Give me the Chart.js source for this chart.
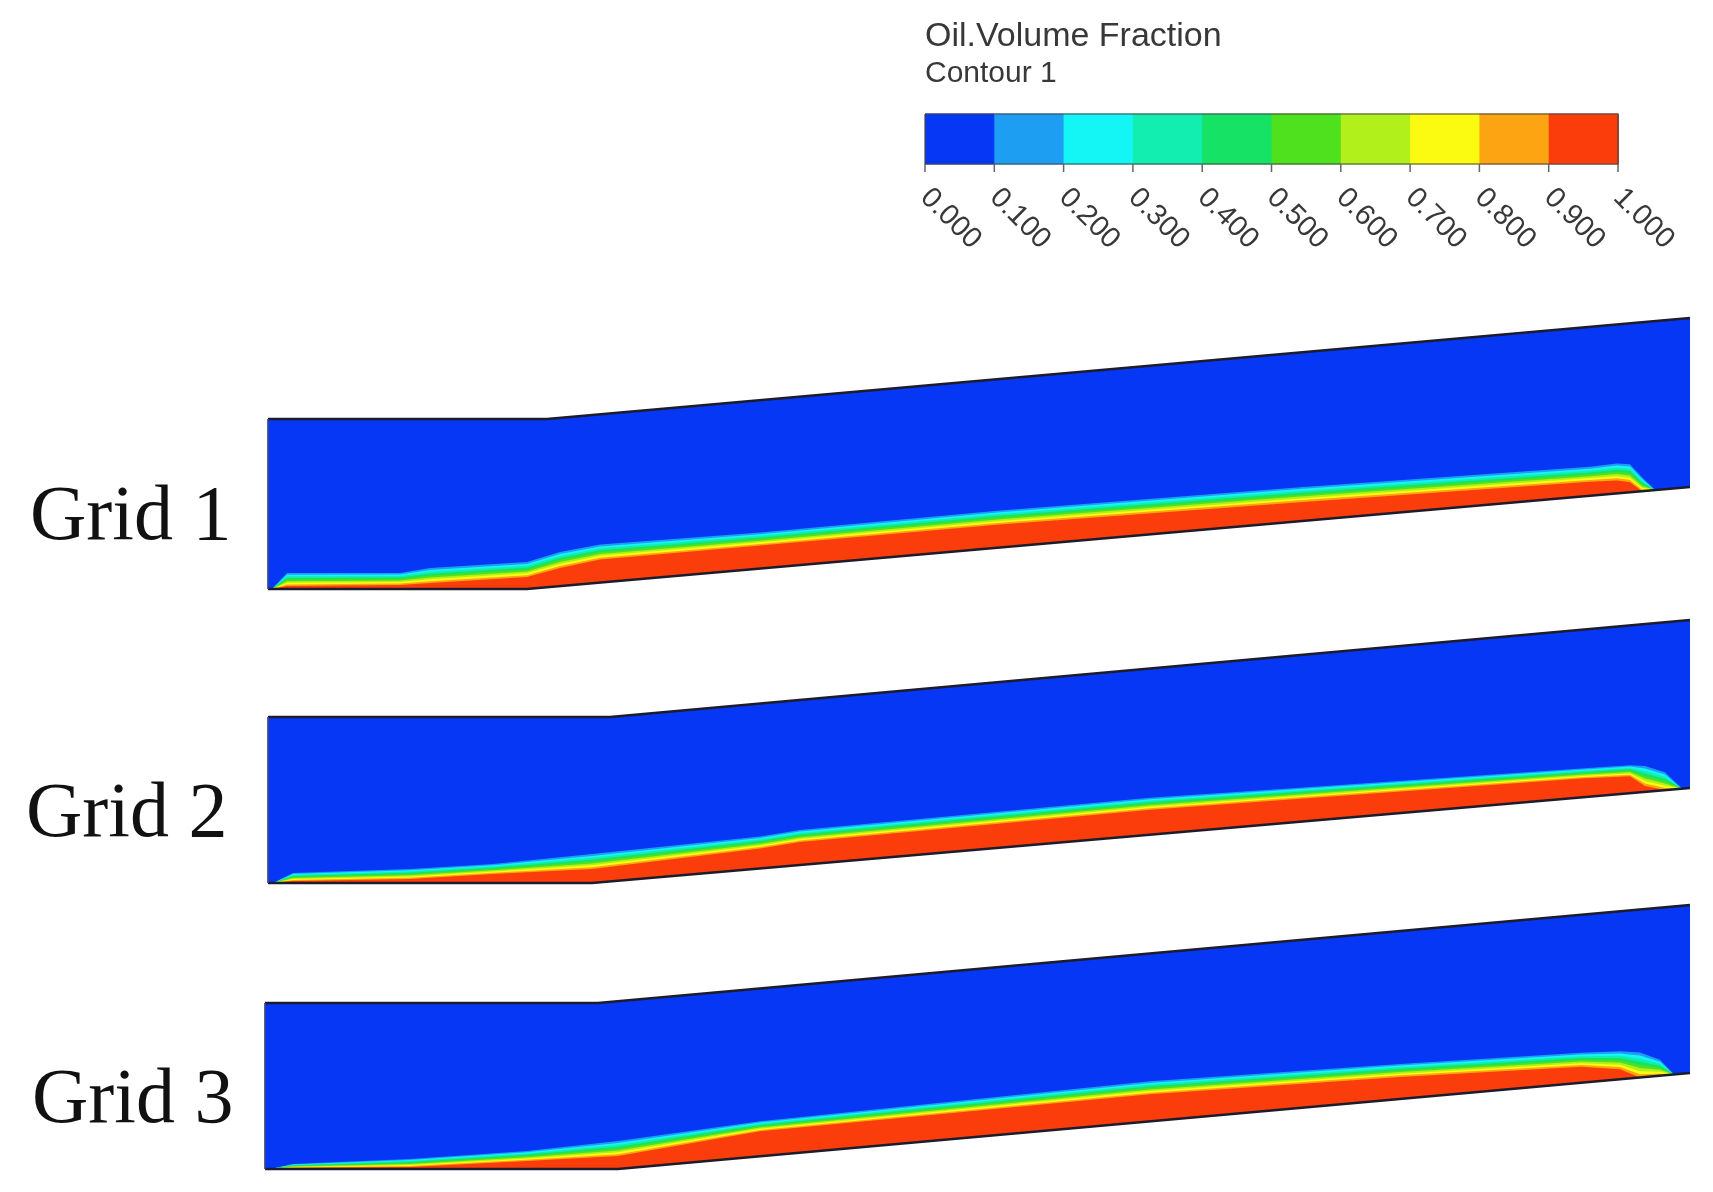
<!DOCTYPE html>
<html>
<head>
<meta charset="utf-8">
<script src="https://cdn.jsdelivr.net/npm/chart.js@4.4.1/dist/chart.umd.min.js"></script>
<style>
  html, body { margin: 0; padding: 0; background: #fff; }
  canvas { display: block; }
</style>
</head>
<body>
<canvas id="contour" width="1713" height="1192"></canvas>
<script>
// colour bar: contour levels, their labels and the band colours
const levels = [0, 0.1, 0.2, 0.3, 0.4, 0.5, 0.6, 0.7, 0.8, 0.9, 1.0];
const tickLabels = ['0.000', '0.100', '0.200', '0.300', '0.400', '0.500',
                    '0.600', '0.700', '0.800', '0.900', '1.000'];
const bandColors = ['#0637f4', '#1e9ef2', '#14f6f6', '#12eeb0', '#16e266',
                    '#4fe01e', '#b2f01c', '#fbfb12', '#fda412', '#fb3d0c'];

const gridNames = ['Grid 1', 'Grid 2', 'Grid 3'];

// pipe walls, one polyline per grid: inlet, bend, outlet
const topWalls = [
  [[268, 419], [547, 419], [1690, 318]],
  [[268, 717], [610, 717], [1690, 620]],
  [[265, 1003], [598, 1003], [1690, 905]]
];
const bottomWalls = [
  [[268, 589], [527, 589], [1690, 487]],
  [[268, 883], [592, 883], [1690, 788]],
  [[265, 1169], [618, 1169], [1690, 1073]]
];

// oil layer: stations along the pipe, height above the bottom wall of the
// outer contour (0.1) and of the oil core (0.9)
const grid1X     = [272, 287, 400, 430, 527, 560, 600, 760, 1000, 1300, 1590, 1617, 1630, 1642, 1655];
const grid1Outer = [0,   16,  16,  21,  27,  34,  38,  36,  37,   34,   29,   30,   28,   14,   0];
const grid1Core  = [0,   3,   4,   6,   12,  18,  23,  23,  23,   19,   14,   13,   10,   0,    0];

const grid2X     = [273, 293, 410, 493, 592, 760, 800, 1150, 1300, 1581, 1630, 1645, 1665, 1682];
const grid2Outer = [0,   10,  14,  19,  29,  32,  35,  37,   34,   29,   28,   26,   18,   0];
const grid2Core  = [0,   2,   4,   9,   14,  20,  23,  25,   23,   19,   17,   6,    0,    0];

const grid3X     = [270, 293, 410, 527, 618, 760, 1150, 1400, 1581, 1620, 1640, 1660, 1674];
const grid3Outer = [0,   5,   10,  18,  28,  35,  40,   35,   30,   28,   25,   16,   0];
const grid3Core  = [0,   1,   2,   8,   13,  25,  27,   22,   16,   10,   0,    0,    0];

const layers = [
  { x: grid1X, outer: grid1Outer, core: grid1Core },
  { x: grid2X, outer: grid2Outer, core: grid2Core },
  { x: grid3X, outer: grid3Outer, core: grid3Core }
];

// layout (figure units)
const bar = { left: 925, right: 1618, top: 114, bottom: 164 };
const gridLabelPos = [[30, 539], [26, 836], [32, 1122]];
const pipeBlue = bandColors[0];
const wallColor = '#1c1c2c';

function wallY(wall, x) {
  for (let i = 0; i < wall.length - 1; i++) {
    const [x0, y0] = wall[i], [x1, y1] = wall[i + 1];
    if (x <= x1 || i === wall.length - 2) {
      return y0 + (y1 - y0) * (x - x0) / (x1 - x0);
    }
  }
}

function toPts(arr) { return arr.map(([x, y]) => ({ x, y })); }

const datasets = [];
function polygon(pts, color, edge) {
  datasets.push({
    data: pts, showLine: true, fill: 'shape', backgroundColor: color,
    borderColor: edge || 'rgba(0,0,0,0)', borderWidth: 1, pointRadius: 0, tension: 0
  });
}
function polyline(pts, color, width) {
  datasets.push({
    data: pts, showLine: true, fill: false, borderColor: color,
    borderWidth: width, pointRadius: 0, tension: 0
  });
}

layers.forEach((layer, g) => {
  const top = topWalls[g], bot = bottomWalls[g];
  // pipe interior
  polygon(toPts(top.concat(bot.slice().reverse())), pipeBlue);

  // contour bands 0.1 ... 0.9, outer first, red core last
  const xs = layer.x;
  const first = xs[0], last = xs[xs.length - 1];
  const inner = bot.filter(([x]) => x > first && x < last).reverse();
  for (let k = 1; k <= 9; k++) {
    const pts = xs.map((x, i) => {
      const h = layer.core[i] + (layer.outer[i] - layer.core[i]) * (9 - k) / 8;
      return { x, y: wallY(bot, x) - h };
    });
    pts.push({ x: last, y: wallY(bot, last) });
    inner.forEach(([x, y]) => pts.push({ x, y }));
    pts.push({ x: first, y: wallY(bot, first) });
    polygon(pts, bandColors[k]);
  }

  // walls
  polyline(toPts(top), wallColor, 2.5);
  polyline(toPts(bot), wallColor, 2.5);
  polyline(toPts([top[0], bot[0]]), '#3a4a8a', 1);
});

// colour bar swatches
for (let i = 0; i < levels.length - 1; i++) {
  const x0 = bar.left + levels[i] * (bar.right - bar.left);
  const x1 = bar.left + levels[i + 1] * (bar.right - bar.left);
  polygon(toPts([[x0, bar.top], [x1, bar.top], [x1, bar.bottom], [x0, bar.bottom]]),
          bandColors[i], bandColors[i]);
}
polyline(toPts([[bar.left, bar.top], [bar.right, bar.top], [bar.right, bar.bottom],
                [bar.left, bar.bottom], [bar.left, bar.top]]), '#444', 1.2);

datasets.forEach((d, i) => { d.order = datasets.length - i; });

const figureText = {
  id: 'figureText',
  afterDraw(chart) {
    const ctx = chart.ctx;
    const px = v => chart.scales.x.getPixelForValue(v);
    const py = v => chart.scales.y.getPixelForValue(v);
    ctx.save();

    // legend title
    ctx.fillStyle = '#383838';
    ctx.textAlign = 'left';
    ctx.textBaseline = 'alphabetic';
    ctx.font = '34px "Liberation Sans", Arial, sans-serif';
    ctx.fillText('Oil.Volume Fraction', px(bar.left), py(46));
    ctx.font = '30px "Liberation Sans", Arial, sans-serif';
    ctx.fillText('Contour 1', px(bar.left), py(82));

    // ticks and rotated labels
    ctx.strokeStyle = '#666';
    ctx.lineWidth = 1.5;
    ctx.font = '29px "Liberation Sans", Arial, sans-serif';
    ctx.textBaseline = 'middle';
    levels.forEach((v, i) => {
      const x = px(bar.left + v * (bar.right - bar.left));
      ctx.beginPath();
      ctx.moveTo(x, py(bar.bottom));
      ctx.lineTo(x, py(bar.bottom + 8));
      ctx.stroke();
      ctx.save();
      ctx.translate(x, py(bar.bottom + 29));
      ctx.rotate(Math.PI / 4);
      ctx.fillText(tickLabels[i], 0, 0);
      ctx.restore();
    });

    // grid names
    ctx.fillStyle = '#111';
    ctx.textBaseline = 'alphabetic';
    ctx.font = '78px "Liberation Serif", "Times New Roman", serif';
    gridNames.forEach((name, g) => {
      ctx.fillText(name, px(gridLabelPos[g][0]), py(gridLabelPos[g][1]));
    });
    ctx.restore();
  }
};

new Chart(document.getElementById('contour'), {
  type: 'scatter',
  data: { datasets },
  options: {
    responsive: false,
    animation: false,
    devicePixelRatio: 1,
    events: [],
    layout: { padding: 0 },
    plugins: { legend: { display: false }, tooltip: { enabled: false } },
    scales: {
      x: { type: 'linear', min: 0, max: 1713, display: false },
      y: { type: 'linear', min: 0, max: 1192, reverse: true, display: false }
    }
  },
  plugins: [figureText]
});
</script>
</body>
</html>
